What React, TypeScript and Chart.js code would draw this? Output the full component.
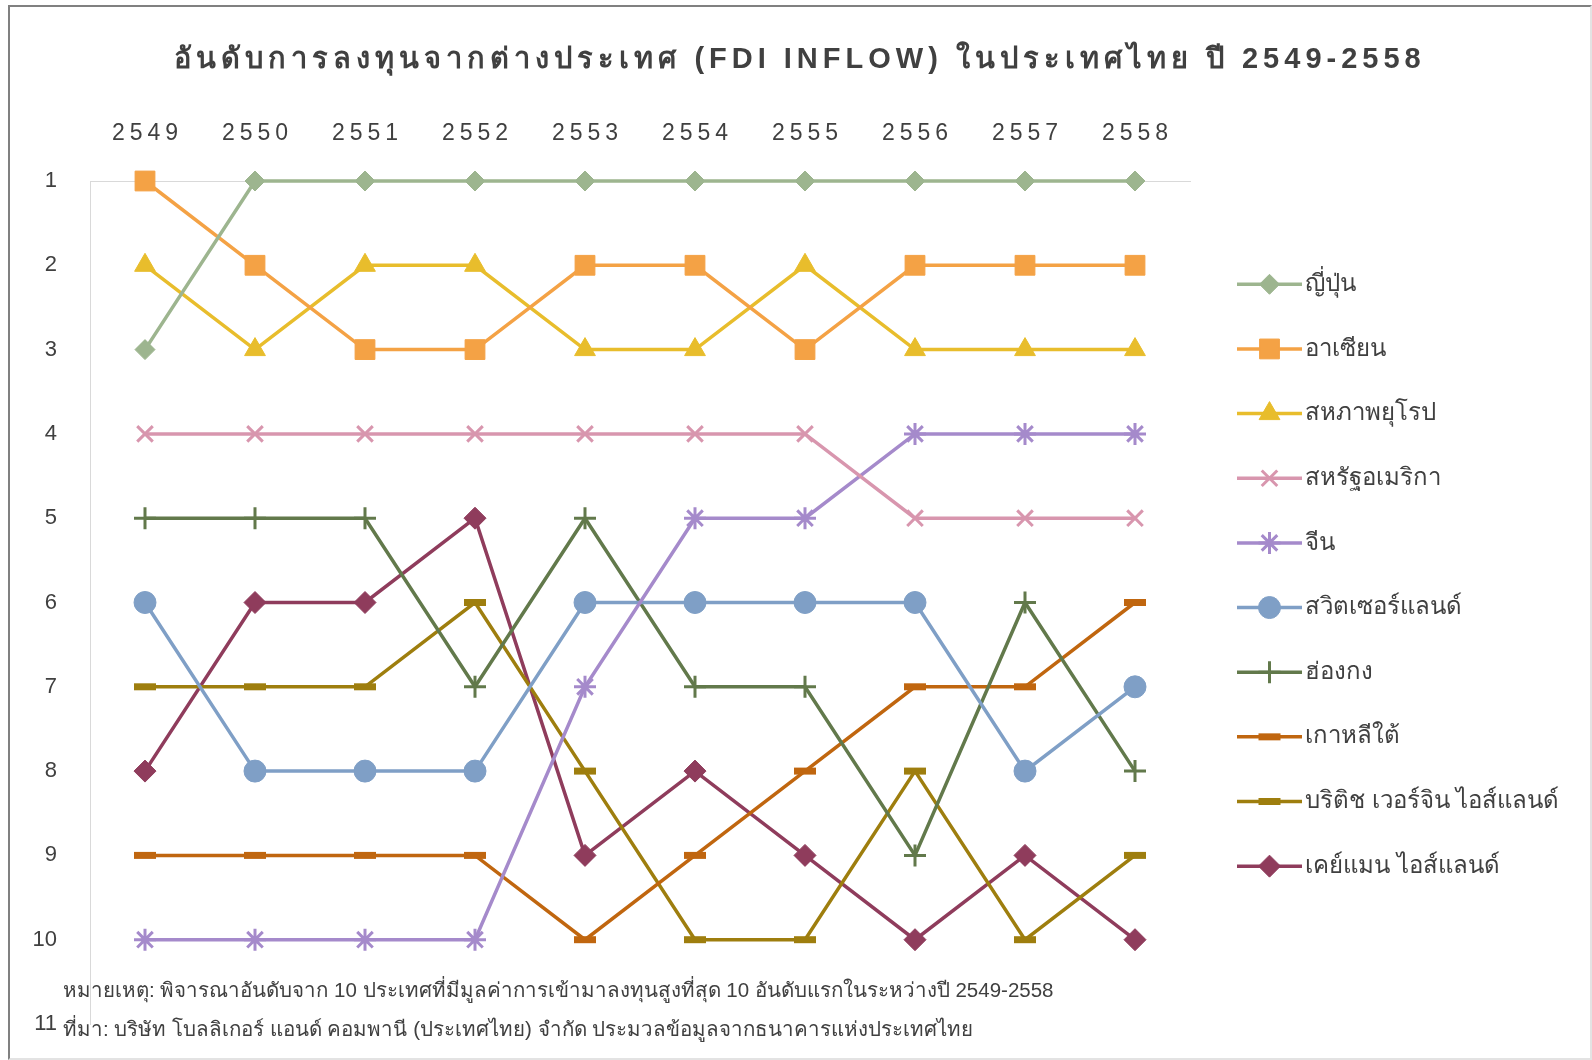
import React, { useEffect, useRef } from 'react';
import { Chart, registerables } from 'chart.js';
import { drawPoint } from 'chart.js/helpers';

Chart.register(...registerables);

const TITLE = 'อันดับการลงทุนจากต่างประเทศ (FDI INFLOW) ในประเทศไทย ปี 2549-2558';
const YEARS = ['2549', '2550', '2551', '2552', '2553', '2554', '2555', '2556', '2557', '2558'];
const NOTE_1 = 'หมายเหตุ: พิจารณาอันดับจาก 10 ประเทศที่มีมูลค่าการเข้ามาลงทุนสูงที่สุด 10 อันดับแรกในระหว่างปี 2549-2558';
const NOTE_2 = 'ที่มา: บริษัท โบลลิเกอร์ แอนด์ คอมพานี (ประเทศไทย) จำกัด ประมวลข้อมูลจากธนาคารแห่งประเทศไทย';

const NAMES = [
  'ญี่ปุ่น',
  'อาเซียน',
  'สหภาพยุโรป',
  'สหรัฐอเมริกา',
  'จีน',
  'สวิตเซอร์แลนด์',
  'ฮ่องกง',
  'เกาหลีใต้',
  'บริติช เวอร์จิน ไอส์แลนด์',
  'เคย์แมน ไอส์แลนด์',
];

const japan = [3, 1, 1, 1, 1, 1, 1, 1, 1, 1];
const asean = [1, 2, 3, 3, 2, 2, 3, 2, 2, 2];
const eu = [2, 3, 2, 2, 3, 3, 2, 3, 3, 3];
const usa = [4, 4, 4, 4, 4, 4, 4, 5, 5, 5];
const china = [10, 10, 10, 10, 7, 5, 5, 4, 4, 4];
const switzerland = [6, 8, 8, 8, 6, 6, 6, 6, 8, 7];
const hongKong = [5, 5, 5, 7, 5, 7, 7, 9, 6, 8];
const southKorea = [9, 9, 9, 9, 10, 9, 8, 7, 7, 6];
const bvi = [7, 7, 7, 6, 8, 10, 10, 8, 10, 9];
const cayman = [8, 6, 6, 5, 9, 8, 9, 10, 9, 10];

const SERIES = [japan, asean, eu, usa, china, switzerland, hongKong, southKorea, bvi, cayman];

const COLORS = ['#9DB58F', '#F4A245', '#E8BD2C', '#D896AE', '#A58ACB', '#7F9FC6', '#62794B', '#C0660F', '#9E7E0E', '#8F3C5C'];
const STYLES = [
  { pointStyle: 'rectRot', radius: 10, bw: 1 },
  { pointStyle: 'rect', radius: 14, bw: 1 },
  { pointStyle: 'triangle', radius: 12, bw: 1 },
  { pointStyle: 'crossRot', radius: 11, bw: 3 },
  { pointStyle: 'star', radius: 11, bw: 3 },
  { pointStyle: 'circle', radius: 11, bw: 1 },
  { pointStyle: 'cross', radius: 11, bw: 3 },
  { pointStyle: 'line', radius: 11, bw: 7 },
  { pointStyle: 'line', radius: 11, bw: 7 },
  { pointStyle: 'rectRot', radius: 11, bw: 1 },
];

const FONT = '"Liberation Sans", "DejaVu Sans", sans-serif';
const TEXT = '#404040';

const overlay = {
  id: 'overlay',
  afterDraw(chart: any) {
    const ctx = chart.ctx as CanvasRenderingContext2D;
    const xs = chart.scales.x;
    // title
    ctx.save();
    ctx.fillStyle = TEXT;
    ctx.font = `bold 29px ${FONT}`;
    (ctx as any).letterSpacing = '5px';
    ctx.textAlign = 'center';
    ctx.textBaseline = 'middle';
    ctx.fillText(TITLE, 800, 60);
    // x labels (top)
    ctx.font = `23px ${FONT}`;
    (ctx as any).letterSpacing = '5px';
    YEARS.forEach((y, i) => {
      ctx.fillText(y, xs.getPixelForTick(i) + 2.5, 134);
    });
    (ctx as any).letterSpacing = '0px';
    // footnotes
    ctx.textAlign = 'left';
    ctx.font = `20.5px "Liberation Sans Narrow", ${FONT}`;
    ctx.fillText(NOTE_1, 63, 991);
    ctx.fillText(NOTE_2, 63, 1030);
    // legend
    const x0 = 1237;
    const x1 = 1302;
    chart.data.datasets.forEach((ds: any, i: number) => {
      const y = 284.3 + i * 64.65;
      ctx.strokeStyle = ds.borderColor;
      ctx.lineWidth = 3.5;
      ctx.beginPath();
      ctx.moveTo(x0, y);
      ctx.lineTo(x1, y);
      ctx.stroke();
      ctx.fillStyle = ds.backgroundColor;
      ctx.strokeStyle = ds.borderColor;
      ctx.lineWidth = ds.pointBorderWidth;
      drawPoint(ctx, { pointStyle: ds.pointStyle, radius: ds.pointRadius, borderWidth: ds.pointBorderWidth, rotation: 0 } as any, (x0 + x1) / 2, y);
      ctx.fillStyle = TEXT;
      ctx.font = `24px ${FONT}`;
      ctx.textAlign = 'left';
      ctx.textBaseline = 'middle';
      ctx.fillText(ds.label, 1305, y);
    });
    ctx.restore();
  },
};

export default function App() {
  const ref = useRef<HTMLCanvasElement | null>(null);
  useEffect(() => {
    if (!ref.current) return;
    const chart = new Chart(ref.current, {
      type: 'line',
      data: {
        labels: YEARS,
        datasets: SERIES.map((d, i) => ({
          label: NAMES[i],
          data: d,
          borderColor: COLORS[i],
          backgroundColor: COLORS[i],
          borderWidth: 3.5,
          pointStyle: STYLES[i].pointStyle as any,
          pointRadius: STYLES[i].radius,
          pointHoverRadius: STYLES[i].radius,
          pointBorderWidth: STYLES[i].bw,
          pointBackgroundColor: COLORS[i],
          pointBorderColor: COLORS[i],
          tension: 0,
          clip: false as any,
        })),
      },
      options: {
        responsive: false,
        animation: false,
        layout: { padding: { left: 0, right: 402, top: 0, bottom: 36 } },
        plugins: {
          legend: { display: false },
          title: { display: false },
          tooltip: { enabled: false },
        },
        scales: {
          x: {
            position: 'top',
            offset: true,
            grid: { display: false, drawTicks: false },
            border: { display: true, color: '#D9D9D9', width: 1 },
            ticks: { display: false },
            afterFit: (s: any) => { s.height = 181; },
          },
          y: {
            reverse: true,
            min: 1,
            max: 11,
            grid: { display: false, drawTicks: false },
            border: { display: true, color: '#D9D9D9', width: 1 },
            ticks: {
              stepSize: 1,
              padding: 33,
              color: TEXT,
              font: { family: FONT, size: 22 },
            },
            afterFit: (s: any) => {
              s.width = 90;
              s.paddingTop = 0;
              s.paddingBottom = 0;
            },
          },
        },
      },
      plugins: [overlay],
    });
    return () => chart.destroy();
  }, []);
  return (
    <div style={{ position: 'absolute', left: 0, top: 0, width: 1592, height: 1060, background: '#fff' }}>
      <div style={{ position: 'absolute', left: 8, top: 5, right: 0, bottom: 0, borderLeft: '2px solid #808080', borderTop: '2px solid #808080', borderRight: '2px solid #E3E3E3', borderBottom: '2px solid #E3E3E3' }} />
      <canvas ref={ref} width={1592} height={1060} style={{ position: 'absolute', left: 0, top: 0 }} />
    </div>
  );
}
